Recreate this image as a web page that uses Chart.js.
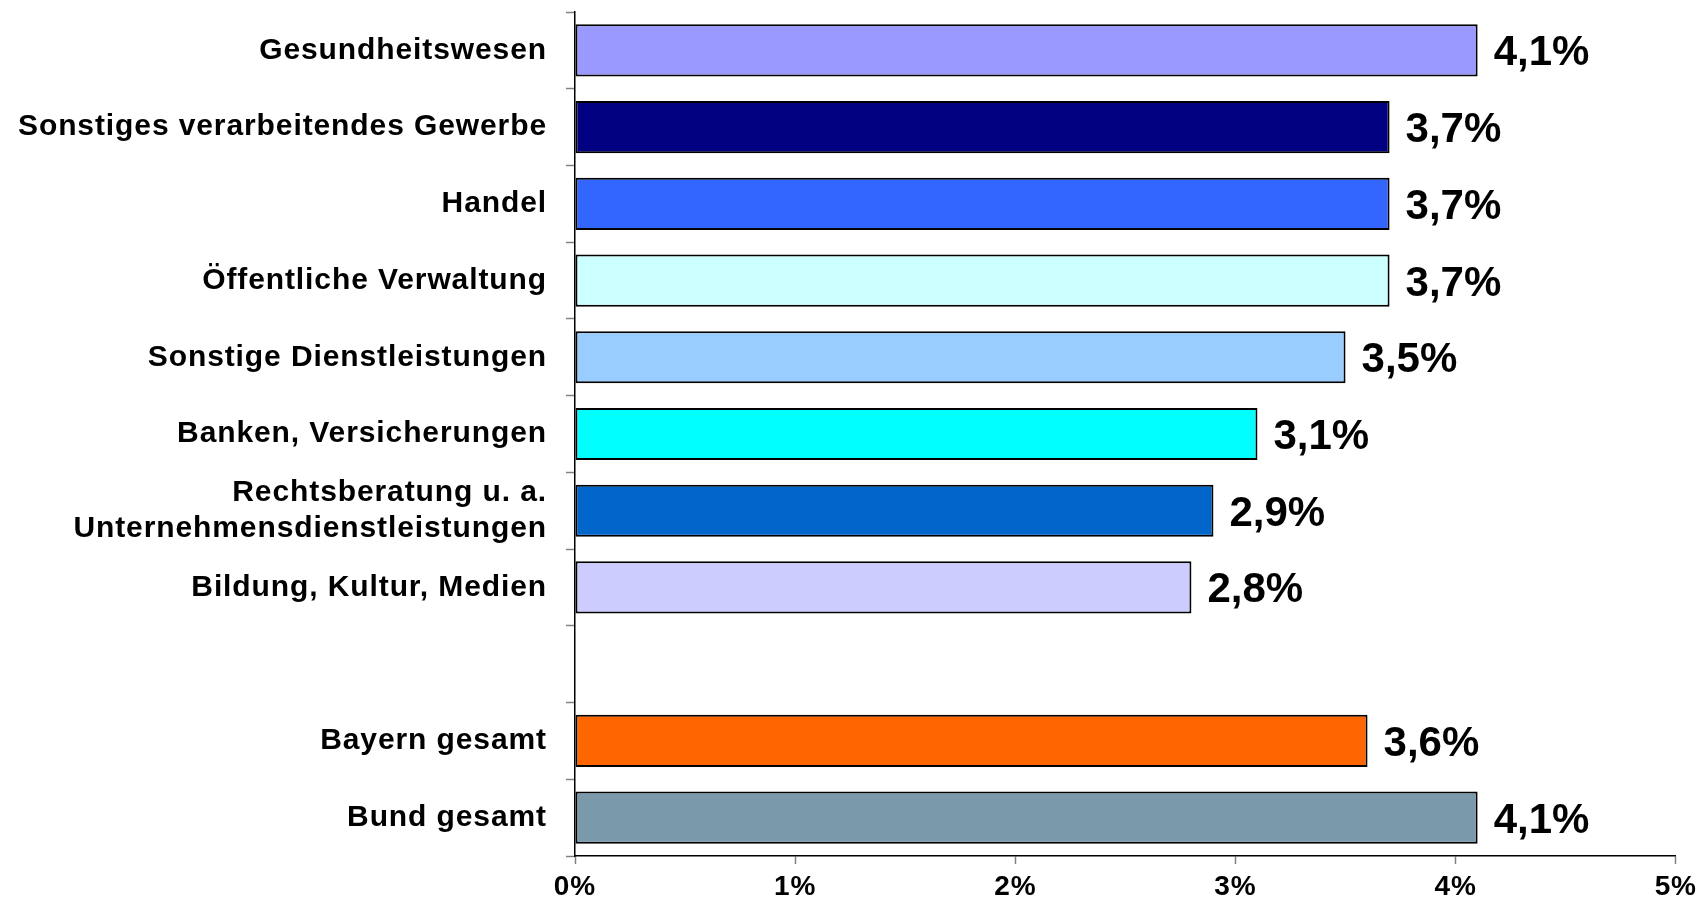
<!DOCTYPE html>
<html>
<head>
<meta charset="utf-8">
<script src="https://cdn.jsdelivr.net/npm/chart.js@4/dist/chart.umd.min.js"></script>
<style>
  html, body { margin: 0; padding: 0; background: #ffffff; }
  #wrap { width: 1702px; height: 901px; position: relative; }
</style>
</head>
<body>
<div id="wrap"><canvas id="c" width="1702" height="901"></canvas></div>
<script>
const categories = [
  'Gesundheitswesen',
  'Sonstiges verarbeitendes Gewerbe',
  'Handel',
  'Öffentliche Verwaltung',
  'Sonstige Dienstleistungen',
  'Banken, Versicherungen',
  ['Rechtsberatung u. a.', 'Unternehmensdienstleistungen'],
  'Bildung, Kultur, Medien',
  '',
  'Bayern gesamt',
  'Bund gesamt'
];
const values = [4.1, 3.7, 3.7, 3.7, 3.5, 3.1, 2.9, 2.8, null, 3.6, 4.1];
const barColors = ['#9999FF', '#000080', '#3366FF', '#CCFFFF', '#99CCFF', '#00FFFF', '#0066CC', '#CCCCFF', '#FFFFFF', '#FF6600', '#7A9AAB'];
const xTicks = [0, 1, 2, 3, 4, 5];

const FONT = "'Liberation Sans', Arial, Helvetica, sans-serif";

const spacingPlugin = {
  id: 'spacing',
  beforeDraw(chart) { chart.ctx.letterSpacing = '0.9px'; },
  beforeDatasetsDraw(chart) { chart.ctx.letterSpacing = '0px'; }
};

const valueLabels = {
  id: 'valueLabels',
  afterDatasetsDraw(chart) {
    const ctx = chart.ctx;
    const meta = chart.getDatasetMeta(0);
    const size = 42;
    ctx.save();
    ctx.letterSpacing = '0px';
    ctx.font = 'bold ' + size + 'px ' + FONT;
    ctx.fillStyle = '#000000';
    ctx.textAlign = 'left';
    ctx.textBaseline = 'alphabetic';
    meta.data.forEach((el, i) => {
      const v = values[i];
      if (v === null || v === undefined) return;
      const txt = v.toFixed(1).replace('.', ',') + '%';
      ctx.fillText(txt, el.x + 16, el.y + 0.358 * size);
    });
    ctx.restore();
  }
};

new Chart(document.getElementById('c'), {
  type: 'bar',
  data: {
    labels: categories,
    datasets: [{
      data: values,
      backgroundColor: barColors,
      borderColor: '#000000',
      borderWidth: 2,
      borderSkipped: false,
      barPercentage: 0.68,
      categoryPercentage: 1.0
    }]
  },
  options: {
    indexAxis: 'y',
    responsive: false,
    animation: false,
    devicePixelRatio: 1,
    layout: { padding: { top: 12, right: 25, left: 0, bottom: 0 } },
    plugins: { legend: { display: false }, tooltip: { enabled: false } },
    scales: {
      x: {
        min: 0,
        max: 5,
        afterBuildTicks(scale) { scale.ticks = xTicks.map(v => ({ value: v })); },
        afterFit(scale) { scale.height = 45; scale.paddingLeft = 0; },
        border: { color: '#000000', width: 1.5 },
        grid: { drawOnChartArea: false, drawTicks: true, tickLength: 8, tickColor: '#808080', tickWidth: 1.5 },
        ticks: {
          color: '#000000',
          padding: 6,
          font: { family: FONT, size: 28, weight: 'bold' },
          callback: (v) => v + '%'
        }
      },
      y: {
        afterFit(scale) { scale.width = 575; scale.paddingTop = 0; scale.paddingBottom = 0; },
        border: { color: '#000000', width: 1.5 },
        grid: { drawOnChartArea: false, drawTicks: true, tickLength: 9, tickColor: '#808080', tickWidth: 1.5, offset: true },
        ticks: {
          color: '#000000',
          padding: 19,
          autoSkip: false,
          font: { family: FONT, size: 30, weight: 'bold', lineHeight: 1.22 }
        }
      }
    }
  },
  plugins: [spacingPlugin, valueLabels]
});
</script>
</body>
</html>
